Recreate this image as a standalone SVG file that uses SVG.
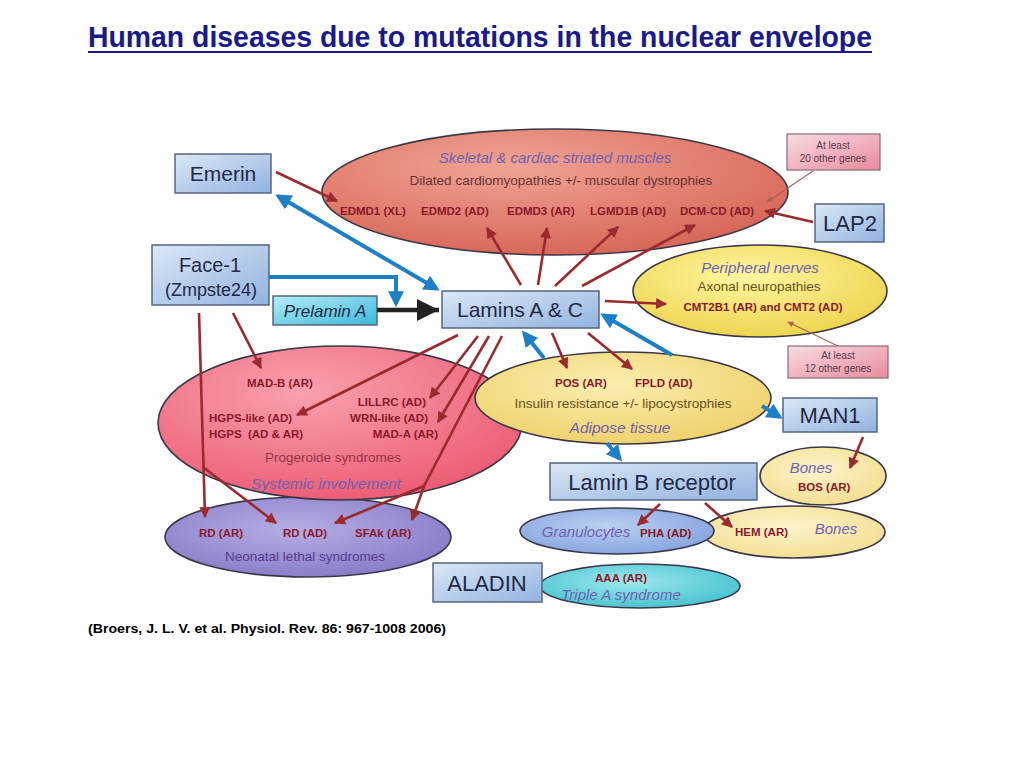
<svg xmlns="http://www.w3.org/2000/svg" width="1024" height="768" viewBox="0 0 1024 768">
<defs>
<style>
text{font-family:"Liberation Sans",Arial,sans-serif}
.box{stroke:#56657f;stroke-width:1.5;fill:url(#gBox)}
.nl{fill:#1e2a46;text-anchor:middle}
.ell{stroke:#3a3848;stroke-width:1.6}
.dis{fill:#8a1a2a;font-weight:bold;font-size:11.5px}
.desc{font-size:13.5px;text-anchor:middle}
.cat{font-style:italic;fill:#7060b2;text-anchor:middle}
.red{stroke:#9a2a2e;stroke-width:2.6;fill:none;marker-end:url(#mR)}
.blue{stroke:#1f7fc6;stroke-width:4;fill:none}
.thin{stroke:#a86060;stroke-width:1.1;fill:none;marker-end:url(#mT)}
.gbox{fill:url(#gPink);stroke:#8a6a78;stroke-width:1.2}
.gtx{font-size:10px;fill:#5a3a48;text-anchor:middle}
</style>
<linearGradient id="gBox" x1="0" y1="0" x2="1" y2="1"><stop offset="0" stop-color="#dce8f7"/><stop offset="1" stop-color="#92b2df"/></linearGradient>
<linearGradient id="gPre" x1="0" y1="0" x2="1" y2="1"><stop offset="0" stop-color="#b6ecf6"/><stop offset="1" stop-color="#3cb8d8"/></linearGradient>
<linearGradient id="gPink" x1="0" y1="0" x2="1" y2="1"><stop offset="0" stop-color="#f8dde4"/><stop offset="1" stop-color="#e88a9c"/></linearGradient>
<radialGradient id="gMus" cx="0.4" cy="0.3" r="0.7"><stop offset="0" stop-color="#f0a494"/><stop offset="1" stop-color="#d8685a"/></radialGradient>
<radialGradient id="gYel" cx="0.45" cy="0.35" r="0.7"><stop offset="0" stop-color="#fff6a0"/><stop offset="1" stop-color="#edd24a"/></radialGradient>
<radialGradient id="gAdi" cx="0.45" cy="0.35" r="0.7"><stop offset="0" stop-color="#fbeeb0"/><stop offset="1" stop-color="#efd068"/></radialGradient>
<radialGradient id="gPro" cx="0.4" cy="0.3" r="0.75"><stop offset="0" stop-color="#f9a0ae"/><stop offset="1" stop-color="#ec5a72"/></radialGradient>
<radialGradient id="gNeo" cx="0.45" cy="0.4" r="0.7"><stop offset="0" stop-color="#b6aee4"/><stop offset="1" stop-color="#8276c4"/></radialGradient>
<radialGradient id="gBon" cx="0.45" cy="0.4" r="0.7"><stop offset="0" stop-color="#fdf4cc"/><stop offset="1" stop-color="#f2dc8c"/></radialGradient>
<radialGradient id="gGra" cx="0.45" cy="0.4" r="0.7"><stop offset="0" stop-color="#bcd0f2"/><stop offset="1" stop-color="#7ea0dc"/></radialGradient>
<radialGradient id="gTri" cx="0.45" cy="0.4" r="0.7"><stop offset="0" stop-color="#9ee8ee"/><stop offset="1" stop-color="#3cbecc"/></radialGradient>
<marker id="mR" viewBox="0 0 10 10" refX="9" refY="5" markerUnits="userSpaceOnUse" markerWidth="13" markerHeight="11" orient="auto"><path d="M0,0L10,5L0,10z" fill="#9a2a2e"/></marker>
<marker id="mT" viewBox="0 0 10 10" refX="9" refY="5" markerUnits="userSpaceOnUse" markerWidth="7" markerHeight="6" orient="auto"><path d="M0,0L10,5L0,10z" fill="#a86060"/></marker>
<marker id="mB" viewBox="0 0 10 10" refX="8" refY="5" markerUnits="userSpaceOnUse" markerWidth="16" markerHeight="16" orient="auto-start-reverse"><path d="M0,0L10,5L0,10z" fill="#1f7fc6"/></marker>
<marker id="mK" viewBox="0 0 10 10" refX="10" refY="5" markerUnits="userSpaceOnUse" markerWidth="34" markerHeight="22" orient="auto"><path d="M0,0L10,5L0,10z" fill="#222"/></marker>
</defs>
<rect width="1024" height="768" fill="#fff"/>

<g id="title">
<text x="88" y="47" font-size="30" font-weight="bold" fill="#1a1a8a" textLength="784" lengthAdjust="spacingAndGlyphs">Human diseases due to mutations in the nuclear envelope</text>
<line x1="88" y1="52" x2="872" y2="52" stroke="#1a1a8a" stroke-width="2"/>
</g>

<g id="muscles">
<ellipse class="ell" cx="555" cy="192" rx="233" ry="63" fill="url(#gMus)"/>
<text class="cat" x="555" y="163" font-size="15">Skeletal &amp; cardiac striated muscles</text>
<text class="desc" x="561" y="185" fill="#6a3434">Dilated cardiomyopathies +/- muscular dystrophies</text>
<text class="dis" x="340" y="215">EDMD1 (XL)</text>
<text class="dis" x="421" y="215">EDMD2 (AD)</text>
<text class="dis" x="507" y="215">EDMD3 (AR)</text>
<text class="dis" x="590" y="215">LGMD1B (AD)</text>
<text class="dis" x="680" y="215">DCM-CD (AD)</text>
</g>

<g id="peripheral">
<ellipse class="ell" cx="760" cy="291" rx="127" ry="46" fill="url(#gYel)"/>
<text class="cat" x="760" y="273" font-size="15">Peripheral nerves</text>
<text class="desc" x="759" y="291" fill="#6a5020">Axonal neuropathies</text>
<text class="dis" x="763" y="311" text-anchor="middle">CMT2B1 (AR) and CMT2 (AD)</text>
</g>

<g id="neonatal">
<ellipse class="ell" cx="308" cy="537" rx="143" ry="40" fill="url(#gNeo)"/>
<text class="dis" x="199" y="537">RD (AR)</text>
<text class="dis" x="283" y="537">RD (AD)</text>
<text class="dis" x="355" y="537">SFAk (AR)</text>
<text class="desc" x="305" y="561" fill="#5a3c8c">Neonatal lethal syndromes</text>
</g>

<g id="progeroide">
<ellipse class="ell" cx="340" cy="423" rx="182" ry="77" fill="url(#gPro)"/>
<text class="dis" x="247" y="387">MAD-B (AR)</text>
<text class="dis" x="209" y="422">HGPS-like (AD)</text>
<text class="dis" x="209" y="438" xml:space="preserve">HGPS  (AD &amp; AR)</text>
<text class="dis" x="426" y="406" text-anchor="end">LILLRC (AD)</text>
<text class="dis" x="428" y="422" text-anchor="end">WRN-like (AD)</text>
<text class="dis" x="438" y="438" text-anchor="end">MAD-A (AR)</text>
<text class="desc" x="333" y="462" fill="#9a3548">Progeroide syndromes</text>
<text class="cat" x="326" y="489" font-size="15.5">Systemic involvement</text>
</g>

<g id="adipose">
<ellipse class="ell" cx="623" cy="398" rx="148" ry="46" fill="url(#gAdi)"/>
<text class="dis" x="555" y="387">POS (AR)</text>
<text class="dis" x="635" y="387">FPLD (AD)</text>
<text class="desc" x="623" y="408" fill="#6a5020">Insulin resistance +/- lipocystrophies</text>
<text class="cat" x="620" y="433" font-size="15.5">Adipose tissue</text>
</g>

<g id="bones-bos">
<ellipse class="ell" cx="823" cy="476" rx="63" ry="29" fill="url(#gBon)"/>
<text class="cat" x="811" y="473" font-size="15">Bones</text>
<text class="dis" x="798" y="491">BOS (AR)</text>
</g>

<g id="bones-hem">
<ellipse class="ell" cx="794" cy="532" rx="91" ry="26" fill="url(#gBon)"/>
<text class="dis" x="735" y="536">HEM (AR)</text>
<text class="cat" x="836" y="534" font-size="15">Bones</text>
</g>

<g id="granulocytes">
<ellipse class="ell" cx="617" cy="531" rx="97" ry="23" fill="url(#gGra)"/>
<text class="cat" x="586" y="537" font-size="15">Granulocytes</text>
<text class="dis" x="640" y="537">PHA (AD)</text>
</g>

<g id="triple-a">
<ellipse class="ell" cx="640" cy="586" rx="100" ry="22" fill="url(#gTri)"/>
<text class="dis" x="621" y="582" text-anchor="middle">AAA (AR)</text>
<text class="cat" x="621" y="600" font-size="15">Triple A syndrome</text>
</g>

<g id="emerin"><rect class="box" x="175" y="154" width="96" height="39"/><text class="nl" x="223" y="181" font-size="21">Emerin</text></g>
<g id="face1"><rect class="box" x="152" y="245" width="117" height="60"/><text class="nl" x="210" y="272" font-size="20">Face-1</text><text class="nl" x="211" y="296" font-size="18">(Zmpste24)</text></g>
<g id="prelamin"><rect x="273" y="296" width="104" height="29" fill="url(#gPre)" stroke="#56657f" stroke-width="1.5"/><text x="325" y="317" font-size="17" font-style="italic" fill="#1e2a46" text-anchor="middle">Prelamin A</text></g>
<g id="lamins"><rect class="box" x="442" y="291" width="157" height="37"/><text class="nl" x="520" y="317" font-size="21">Lamins A &amp; C</text></g>
<g id="lap2"><rect class="box" x="815" y="204" width="69" height="38"/><text class="nl" x="850" y="231" font-size="22">LAP2</text></g>
<g id="genes20"><rect class="gbox" x="787" y="134" width="93" height="36"/><text class="gtx" x="833" y="149">At least</text><text class="gtx" x="833" y="162">20 other genes</text></g>
<g id="genes12"><rect class="gbox" x="788" y="346" width="100" height="32"/><text class="gtx" x="838" y="359">At least</text><text class="gtx" x="838" y="372">12 other genes</text></g>
<g id="man1"><rect class="box" x="783" y="398" width="94" height="34"/><text class="nl" x="830" y="423" font-size="22">MAN1</text></g>
<g id="lbr"><rect class="box" x="550" y="463" width="207" height="37"/><text class="nl" x="652" y="490" font-size="22">Lamin B receptor</text></g>
<g id="aladin"><rect class="box" x="433" y="563" width="109" height="39"/><text class="nl" x="487" y="591" font-size="22">ALADIN</text></g>

<g id="connectors">
<line class="red" x1="276" y1="172" x2="337" y2="201"/>
<line class="red" x1="521" y1="285" x2="487" y2="228"/>
<line class="red" x1="538" y1="285" x2="547" y2="228"/>
<line class="red" x1="555" y1="286" x2="618" y2="227"/>
<line class="red" x1="582" y1="286" x2="695" y2="225"/>
<line class="red" x1="813" y1="222" x2="765" y2="211" stroke-width="3.2"/>
<line class="thin" x1="813" y1="171" x2="767" y2="202"/>
<line class="red" x1="605" y1="301" x2="666" y2="304"/>
<line class="thin" x1="838" y1="346" x2="788" y2="322"/>
<line class="red" x1="552" y1="333" x2="567" y2="368"/>
<line class="red" x1="588" y1="333" x2="632" y2="369"/>
<line class="red" x1="458" y1="335" x2="297" y2="415"/>
<line class="red" x1="478" y1="336" x2="430" y2="398"/>
<line class="red" x1="489" y1="336" x2="438" y2="422"/>
<polyline class="red" points="502,336 424,486 412,520"/>
<line class="red" x1="424" y1="486" x2="335" y2="523"/>
<line class="red" x1="233" y1="313" x2="261" y2="368"/>
<line class="red" x1="199" y1="313" x2="205" y2="517"/>
<line class="red" x1="203" y1="467" x2="276" y2="523"/>
<line class="red" x1="863" y1="437" x2="850" y2="468"/>
<line class="red" x1="660" y1="504" x2="638" y2="525"/>
<line class="red" x1="705" y1="503" x2="732" y2="527"/>
<line class="blue" x1="278" y1="196" x2="437" y2="289" marker-start="url(#mB)" marker-end="url(#mB)"/>
<polyline class="blue" points="269,277 396,277 396,304" marker-end="url(#mB)"/>
<line x1="377" y1="310" x2="439" y2="310" stroke="#222" stroke-width="4.5" marker-end="url(#mK)"/>
<line class="blue" x1="544" y1="358" x2="524" y2="333" marker-end="url(#mB)"/>
<line class="blue" x1="672" y1="355" x2="603" y2="315" marker-end="url(#mB)"/>
<line class="blue" x1="762" y1="406" x2="780" y2="417" marker-end="url(#mB)"/>
<line class="blue" x1="607" y1="443" x2="620" y2="459" marker-end="url(#mB)"/>
</g>

<text x="88" y="633" font-size="12.5" font-weight="bold" fill="#000" textLength="358" lengthAdjust="spacingAndGlyphs">(Broers, J. L. V. et al. Physiol. Rev. 86: 967-1008 2006)</text>
</svg>
